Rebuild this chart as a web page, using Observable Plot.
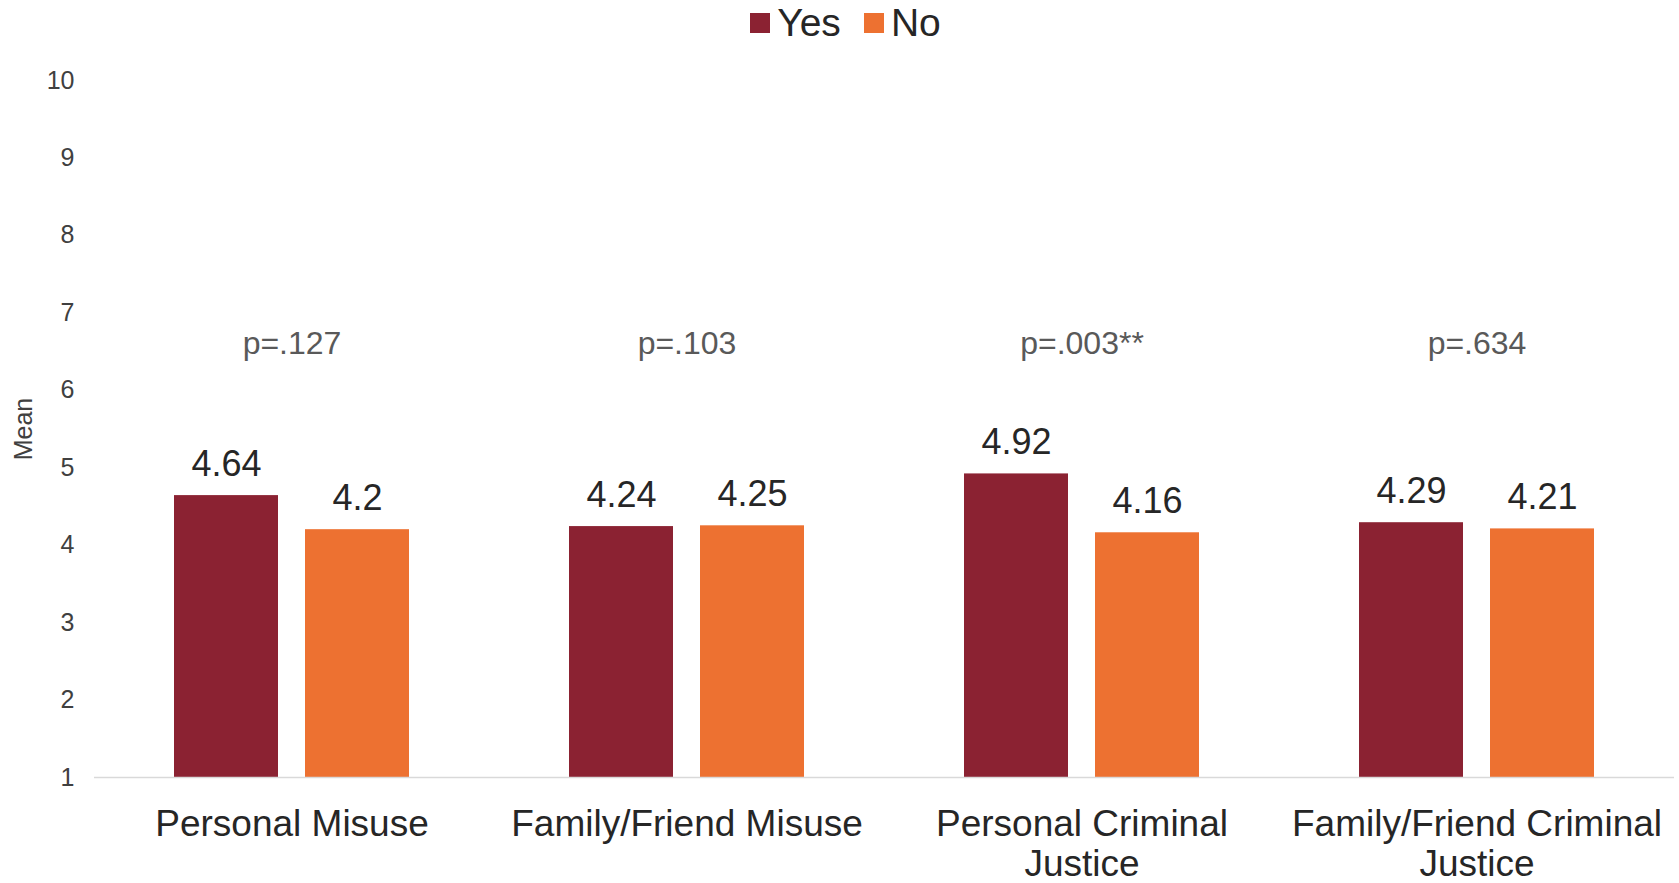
<!DOCTYPE html>
<html><head><meta charset="utf-8">
<script src="https://cdn.jsdelivr.net/npm/d3@7"></script>
<script src="https://cdn.jsdelivr.net/npm/@observablehq/plot@0.6"></script>
<style>
body{margin:0;background:#fff;font-family:"Liberation Sans",Arial,sans-serif;}
#legend{height:46px;display:flex;justify-content:center;align-items:center;gap:23px;font-size:39px;color:#262626;padding-left:12px;}
.item{display:flex;align-items:center;gap:7px}
.sw{width:20px;height:20px}
</style></head><body>
<div id="legend"></div>
<div id="chart"></div>
<script>
const categories = ["Personal Misuse","Family/Friend Misuse","Personal Criminal Justice","Family/Friend Criminal Justice"];
const categoryLabels = ["Personal Misuse","Family/Friend Misuse","Personal Criminal\nJustice","Family/Friend Criminal\nJustice"];
const series = ["Yes","No"];
const yesValues = [4.64,4.24,4.92,4.29];
const noValues = [4.2,4.25,4.16,4.21];
const pValues = ["p=.127","p=.103","p=.003**","p=.634"];
const yTicks = [1,2,3,4,5,6,7,8,9,10];
const colors = ["#8B2232","#ED7131"];
const yBase = 1;
const pLabelY = 6.6;

const legend = document.getElementById("legend");
series.forEach((s,i)=>{
  const it = document.createElement("div"); it.className="item";
  const sw = document.createElement("div"); sw.className="sw"; sw.style.background=colors[i];
  const tx = document.createElement("span"); tx.textContent = s;
  it.appendChild(sw); it.appendChild(tx); legend.appendChild(it);
});

const data = categories.flatMap((c,i)=>[
  {category:c, series:series[0], value:yesValues[i]},
  {category:c, series:series[1], value:noValues[i]}
]);
const pData = categories.map((c,i)=>({category:c, p:pValues[i]}));
const labelMap = new Map(categories.map((c,i)=>[c, categoryLabels[i]]));

const chart = Plot.plot({
  width:1679, height:837, marginTop:34, marginBottom:106, marginLeft:94, marginRight:5,
  style:{fontFamily:"Liberation Sans, Arial, sans-serif", background:"#fff"},
  fx:{domain:categories, padding:0, label:null},
  x:{domain:series, paddingInner:0.2045, paddingOuter:0.5985, axis:null},
  y:{domain:[1,10], label:"Mean"},
  color:{domain:series, range:colors},
  marks:[
    Plot.barY(data,{fx:"category", x:"series", y1:()=>yBase, y2:"value", fill:"series"}),
    Plot.ruleY([yBase],{stroke:"#d9d9d9", strokeWidth:1.5}),
    Plot.text(data,{fx:"category", x:"series", y:"value", text:d=>String(d.value), lineAnchor:"bottom", dy:-20, fontSize:36, fill:"#262626"}),
    Plot.text(pData,{fx:"category", y:()=>pLabelY, text:"p", fontSize:32, fill:"#595959"}),
    Plot.axisY({ticks:yTicks, tickSize:0, tickPadding:20, fontSize:25, fill:"#404040", label:"Mean", labelAnchor:"center", labelArrow:"none", labelOffset:80}),
    Plot.axisFx({anchor:"bottom", tickSize:0, tickPadding:31, fontSize:37, lineHeight:1.06, tickFormat:c=>labelMap.get(c), label:null, fill:"#262626"})
  ]
});
document.getElementById("chart").appendChild(chart);
</script>
</body></html>
